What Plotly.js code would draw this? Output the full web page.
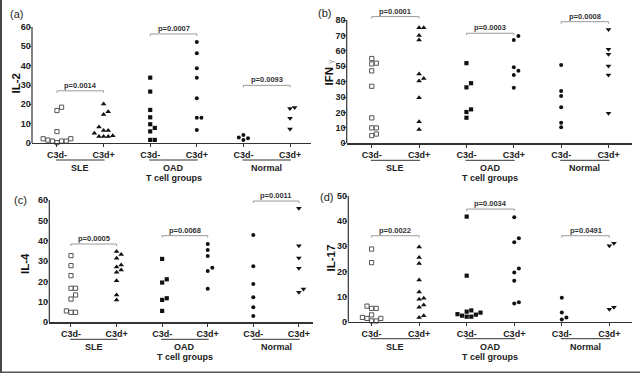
<!DOCTYPE html>
<html><head><meta charset="utf-8">
<script src="https://cdn.plot.ly/plotly-3.0.1.min.js"></script>
<style>html,body{margin:0;padding:0;background:#fff}#chart{width:640px;height:373px}</style>
</head><body><div id="chart"></div>
<script>
// ---------- data ----------
const categories = ['C3d-', 'C3d+', 'C3d-', 'C3d+', 'C3d-', 'C3d+'];
const groups = ['SLE', 'OAD', 'Normal'];
const groupTitle = 'T cell groups';
const panelLetters = ['(a)', '(b)', '(c)', '(d)'];
const cytokines = ['<b>IL-2</b>', '<b>IFN</b> <span style="color:#9a9a9a;font-size:8px">γ</span>', '<b>IL-4</b>', '<b>IL-17</b>'];
const yTickMax = [60, 80, 60, 50];

// IL-2
const il2_sle_neg = [18.5, 16.8, 5.9, 2.2, 2.2, 1.5, 1.0, 1.0, 1.0, 0.2];
const il2_sle_pos = [20.2, 16.2, 14.8, 8.3, 6.5, 6.5, 5.0, 3.3, 3.3, 3.3, 3.7];
const il2_oad_neg = [33.8, 26.6, 17.1, 13.3, 9.7, 7.8, 6.0, 1.6, 1.6];
const il2_oad_pos = [52.2, 46.4, 38.6, 33.8, 23.1, 13.1, 13.1, 6.7];
const il2_nor_neg = [4.1, 2.8, 2.4, 1.6];
const il2_nor_pos = [18.4, 17.8, 12.8, 7.2];
const il2_p = ['p=0.0014', 'p=0.0007', 'p=0.0093'];
const il2_pY = [27, 56.4, 29.8];

// IFN gamma
const ifn_sle_neg = [55, 52, 51.5, 47, 37, 16.5, 10, 10, 6, 5];
const ifn_sle_pos = [75, 75, 70, 67, 45, 42, 40.5, 29.5, 14, 9];
const ifn_oad_neg = [52, 39, 36.3, 22, 20.3, 16.6];
const ifn_oad_pos = [69.6, 67, 49.3, 47.1, 44.3, 36.1];
const ifn_nor_neg = [50.8, 33.9, 30.7, 23.4, 13.4, 10.4];
const ifn_nor_pos = [73.9, 61, 57.7, 50.2, 44.3, 19.5];
const ifn_p = ['p=0.0001', 'p=0.0003', 'p=0.0008'];
const ifn_pY = [82.2, 71.4, 78.9];

// IL-4
const il4_sle_neg = [32.7, 27.8, 22.9, 16.7, 16.7, 13.4, 11.4, 5.6, 4.9, 4.9];
const il4_sle_pos = [34.7, 33.3, 31.4, 28.1, 27.1, 25.7, 24.5, 20.4, 13.4, 11.0];
const il4_oad_neg = [31.1, 21.1, 19.5, 11.8, 11.0, 5.6];
const il4_oad_pos = [38.4, 35.5, 32.5, 26.8, 25.2, 16.5];
const il4_nor_neg = [42.8, 27.5, 18.8, 12.3, 7.4, 3.1];
const il4_nor_pos = [55.9, 37.6, 31.6, 26.5, 16.3, 14.7];
const il4_p = ['p=0.0005', 'p=0.0068', 'p=0.0011'];
const il4_pY = [38.4, 42.5, 59.5];

// IL-17
const il17_sle_neg = [28.9, 23.5, 6.2, 5.3, 5.3, 2.7, 1.7, 1.3, 1.3, 0.3, 0.3];
const il17_sle_pos = [29.7, 25.5, 23.2, 16.6, 11.8, 9.3, 8.9, 6.6, 5.7, 2.4, 1.7];
const il17_oad_neg = [41.8, 18.3, 4.5, 4.0, 3.6, 3.0, 2.8, 2.4, 2.0, 2.0];
const il17_oad_pos = [41.5, 33.2, 31.6, 21.2, 19.6, 16.3, 7.7, 7.2];
const il17_nor_neg = [9.5, 3.7, 1.7, 0.9];
const il17_nor_pos = [31.2, 30.2, 5.7, 5.0];
const il17_p = ['p=0.0022', 'p=0.0034', 'p=0.0491'];
const il17_pY = [34.2, 44.8, 34.2];

const panelSeries = [
  [il2_sle_neg, il2_sle_pos, il2_oad_neg, il2_oad_pos, il2_nor_neg, il2_nor_pos],
  [ifn_sle_neg, ifn_sle_pos, ifn_oad_neg, ifn_oad_pos, ifn_nor_neg, ifn_nor_pos],
  [il4_sle_neg, il4_sle_pos, il4_oad_neg, il4_oad_pos, il4_nor_neg, il4_nor_pos],
  [il17_sle_neg, il17_sle_pos, il17_oad_neg, il17_oad_pos, il17_nor_neg, il17_nor_pos]
];
const panelP = [[il2_p, il2_pY], [ifn_p, ifn_pY], [il4_p, il4_pY], [il17_p, il17_pY]];

// ---------- layout geometry (pixels in a 640x373 figure) ----------
const W = 640, H = 373;
const geo = [
  {left: 32, right: 311, bottom: 143, tickTopPx: 27, rangeTop: 60, xr: [-0.536, 5.45], lab: [16, 14], ttl: [15.5, 84]},
  {left: 346.7, right: 631.7, bottom: 143.3, tickTopPx: 20, rangeTop: 86, xr: [-0.529, 5.49], lab: [324, 13], ttl: [328.5, 73]},
  {left: 49.3, right: 313, bottom: 322.3, tickTopPx: 200, rangeTop: 64, xr: [-0.476, 5.31], lab: [20.5, 200], ttl: [25, 264]},
  {left: 348.3, right: 631.7, bottom: 321.7, tickTopPx: 196, rangeTop: 50, xr: [-0.49, 5.47], lab: [326, 197], ttl: [330.5, 258]}
];
const markerStyles = [
  {symbol: 'square-open', size: 4.2, color: '#555', line: {width: 1, color: '#555'}},
  {symbol: 'triangle-up', size: 5, color: '#111'},
  {symbol: 'square', size: 4.2, color: '#111'},
  {symbol: 'circle', size: 4, color: '#111'},
  {symbol: 'circle', size: 4, color: '#111'},
  {symbol: 'triangle-down', size: 5, color: '#111'}
];
const FONT = 'Liberation Sans, Arial, sans-serif';

function swarmX(center, vals, xpx, ypx, d) {
  const idx = vals.map((v, i) => i).sort((a, b) => vals[a] - vals[b]);
  const placed = []; const xs = new Array(vals.length);
  idx.forEach(i => {
    const py = vals[i] * ypx;
    let k = 0, off = 0;
    while (true) {
      off = k === 0 ? 0 : (k % 2 === 1 ? (k + 1) / 2 : -k / 2);
      const ox = off * d;
      if (!placed.some(p => Math.abs(p.ox - ox) < d * 0.95 && Math.abs(p.py - py) < d)) break;
      k++;
    }
    placed.push({ox: off * d, py});
    xs[i] = center + (off * d) / xpx;
  });
  return xs;
}

const traces = [], shapes = [], annotations = [];
const layout = {
  width: W, height: H, margin: {l: 0, r: 0, t: 0, b: 0},
  paper_bgcolor: '#fff', plot_bgcolor: '#fff', showlegend: false,
  font: {family: FONT, color: '#222'}
};

geo.forEach((g, p) => {
  const sfx = p === 0 ? '' : String(p + 1);
  const xa = 'x' + sfx, ya = 'y' + sfx;
  const axisTopVal = yTickMax[p];
  const ypx = (g.bottom - g.tickTopPx) / axisTopVal;
  const topPx = g.bottom - g.rangeTop * ypx;
  const xpx = (g.right - g.left) / (g.xr[1] - g.xr[0]);
  layout['xaxis' + sfx] = {
    domain: [g.left / W, g.right / W], range: g.xr, anchor: ya,
    tickvals: [0, 1, 2, 3, 4, 5], ticktext: categories,
    showgrid: false, zeroline: false, showline: true, linecolor: '#333', linewidth: 1.2,
    ticks: 'outside', ticklen: 3, tickwidth: 1, tickcolor: '#333',
    tickfont: {size: 9, family: FONT, weight: 'bold', color: '#222'}, fixedrange: true
  };
  const tv = []; for (let v = 0; v <= axisTopVal; v += 10) tv.push(v);
  layout['yaxis' + sfx] = {
    domain: [1 - g.bottom / H, 1 - topPx / H], range: [0, g.rangeTop], anchor: xa,
    tickvals: tv, showgrid: false, zeroline: false, showline: false,
    ticks: 'outside', ticklen: 2.5, tickwidth: 1, tickcolor: '#333', ticklabelstandoff: -4,
    tickfont: {size: 9, family: FONT, weight: 'bold', color: '#222'},
    fixedrange: true
  };
  // y axis title (rotated)
  annotations.push({xref: 'paper', yref: 'paper', x: g.ttl[0] / W, y: 1 - g.ttl[1] / H,
    xanchor: 'center', yanchor: 'middle', textangle: -90, text: cytokines[p], showarrow: false,
    font: {size: 11.5, family: FONT, color: '#111'}});
  // y axis line up to the last tick
  shapes.push({type: 'line', xref: xa + ' domain', yref: ya, x0: 0, x1: 0, y0: 0, y1: axisTopVal,
    line: {color: '#333', width: 1.2}});

  panelSeries[p].forEach((vals, c) => {
    const ms = markerStyles[c];
    traces.push({
      type: 'scatter', mode: 'markers', xaxis: xa, yaxis: ya, cliponaxis: false,
      x: swarmX(c, vals, xpx, ypx, 4.6), y: vals,
      marker: ms, hoverinfo: 'y', name: groups[Math.floor(c / 2)] + ' ' + categories[c]
    });
  });

  // p-value brackets
  const [labels, ys] = panelP[p];
  const drop = 2 / ypx;
  labels.forEach((t, gi) => {
    const c0 = gi * 2, c1 = gi * 2 + 1, yb = ys[gi];
    shapes.push({type: 'path', xref: xa, yref: ya,
      path: `M${c0},${yb - drop} L${c0},${yb} L${c1},${yb} L${c1},${yb - drop}`,
      line: {color: '#9a9a9a', width: 1}});
    annotations.push({xref: xa, yref: ya, x: (c0 + c1) / 2, y: yb, yanchor: 'bottom', yshift: -1,
      text: '<b>' + t + '</b>', showarrow: false, font: {size: 7.5, family: FONT, color: '#333'}});
  });

  // group underlines and labels
  groups.forEach((gname, gi) => {
    const c0 = gi * 2, c1 = gi * 2 + 1;
    const ly = 1 - (g.bottom + 17) / H;
    shapes.push({type: 'line', xref: xa, yref: 'paper', x0: c0 - 0.02, x1: c1 + 0.02, y0: ly, y1: ly,
      line: {color: '#333', width: 1}});
    annotations.push({xref: xa, yref: 'paper', x: (c0 + c1) / 2, y: 1 - (g.bottom + 25) / H,
      yanchor: 'middle', text: '<b>' + gname + '</b>', showarrow: false,
      font: {size: 9, family: FONT, color: '#222'}});
  });
  annotations.push({xref: xa, yref: 'paper', x: 2.5, y: 1 - (g.bottom + 35) / H,
    yanchor: 'middle', text: '<b>' + groupTitle + '</b>', showarrow: false,
    font: {size: 9, family: FONT, color: '#222'}});

  // panel letter
  annotations.push({xref: 'paper', yref: 'paper', x: g.lab[0] / W, y: 1 - g.lab[1] / H,
    xanchor: 'center', yanchor: 'middle', text: panelLetters[p], showarrow: false,
    font: {size: 11, family: FONT, color: '#222'}});
});

// figure frame (left and bottom edges)
shapes.push({type: 'line', xref: 'paper', yref: 'paper', x0: 0.0015, x1: 0.0015, y0: 0, y1: 1, line: {color: '#444', width: 2}});
shapes.push({type: 'line', xref: 'paper', yref: 'paper', x0: 0, x1: 1, y0: 0.002, y1: 0.002, line: {color: '#555', width: 1.5}});

layout.shapes = shapes;
layout.annotations = annotations;
Plotly.newPlot('chart', traces, layout, {staticPlot: true, displayModeBar: false});
</script></body></html>
